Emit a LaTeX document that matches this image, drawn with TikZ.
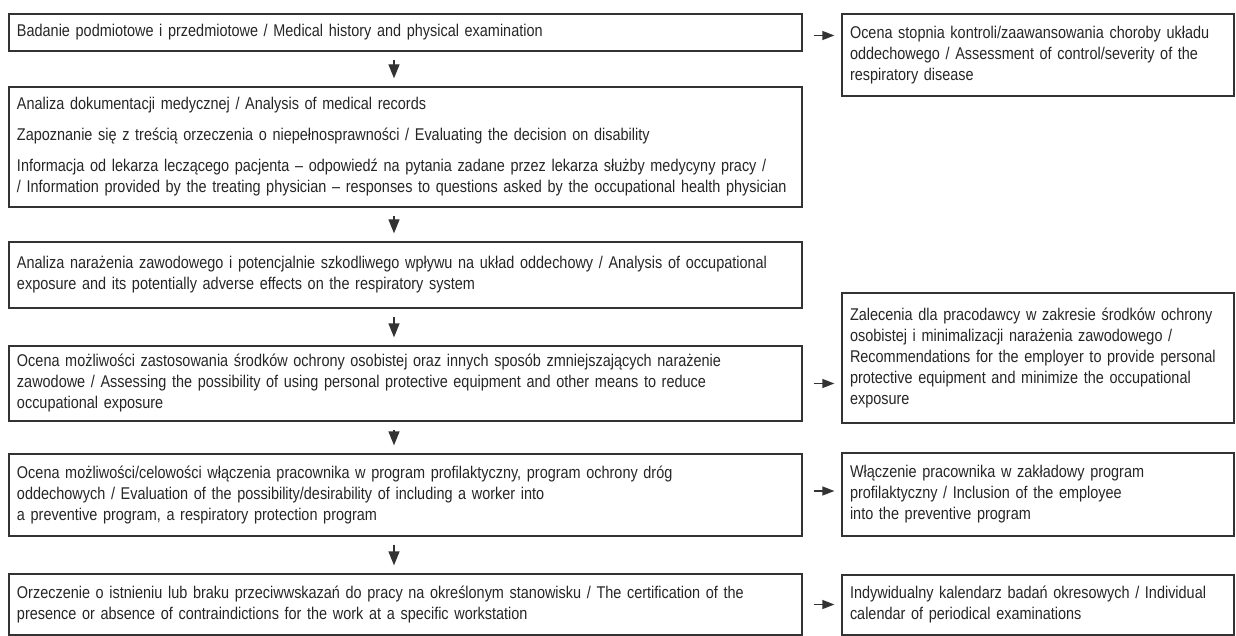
\documentclass[tikz,border=0pt]{standalone}
\usepackage{fontspec}
\setmainfont{Liberation Sans}[FakeStretch=0.85]
\usepackage{tikz}
\usetikzlibrary{arrows.meta,positioning}
\definecolor{ink}{HTML}{262626}
\definecolor{frame}{HTML}{333333}

\begin{document}
\begin{tikzpicture}[x=0.5pt, y=0.5pt,
  box/.style={draw=frame, line width=0.65pt, align=left, text=ink,
              font=\fontsize{8.5pt}{10.5pt}\selectfont, inner xsep=4pt, inner ysep=0pt},
  wide box/.style={box, minimum width=396.5pt, text width=388.5pt},
  side box/.style={box, minimum width=196pt, text width=188pt},
  flow arrow/.style={-{Triangle[length=7pt,width=5.5pt]}, frame, line width=0.65pt,
                     shorten <=4pt, shorten >=4pt},
  side arrow/.style={-{Triangle[length=6pt,width=4.5pt]}, frame, line width=0.65pt,
                     shorten <=5.5pt, shorten >=3.5pt}
]
  \useasboundingbox (0,0) rectangle (1236,-636);

  \node[wide box, minimum height=18.5pt] (history) at (405.5,-32.5)
    {Badanie podmiotowe i przedmiotowe / Medical history and physical examination};
  \node[wide box, minimum height=60pt] (records) at (405.5,-147)
    {Analiza dokumentacji medycznej / Analysis of medical records\\[5pt]
     Zapoznanie się z treścią orzeczenia o niepełnosprawności / Evaluating the decision on disability\\[5pt]
     Informacja od lekarza leczącego pacjenta – odpowiedź na pytania zadane przez lekarza służby medycyny pracy /\\
     / Information provided by the treating physician – responses to questions asked by the occupational health physician};
  \node[wide box, minimum height=33pt] (exposure) at (405.5,-275)
    {Analiza narażenia zawodowego i potencjalnie szkodliwego wpływu na układ oddechowy / Analysis of occupational\\
     exposure and its potentially adverse effects on the respiratory system};
  \node[wide box, minimum height=37.5pt] (protection) at (405.5,-383.5)
    {Ocena możliwości zastosowania środków ochrony osobistej oraz innych sposób zmniejszających narażenie\\
     zawodowe / Assessing the possibility of using personal protective equipment and other means to reduce\\
     occupational exposure};
  \node[wide box, minimum height=41pt] (program) at (405.5,-495)
    {Ocena możliwości/celowości włączenia pracownika w program profilaktyczny, program ochrony dróg\\
     oddechowych / Evaluation of the possibility/desirability of including a worker into\\
     a preventive program, a respiratory protection program};
  \node[wide box, minimum height=30.5pt] (verdict) at (405.5,-604.5)
    {Orzeczenie o istnieniu lub braku przeciwwskazań do pracy na określonym stanowisku / The certification of the\\
     presence or absence of contraindictions for the work at a specific workstation};

  \node[side box, minimum height=41pt] (severity) at (1038,-55)
    {Ocena stopnia kontroli/zaawansowania choroby układu\\
     oddechowego / Assessment of control/severity of the\\
     respiratory disease};
  \node[side box, minimum height=65pt] (employer) at (1038,-358)
    {Zalecenia dla pracodawcy w zakresie środków ochrony\\
     osobistej i minimalizacji narażenia zawodowego /\\
     Recommendations for the employer to provide personal\\
     protective equipment and minimize the occupational\\
     exposure};
  \node[side box, minimum height=41.5pt] (inclusion) at (1038,-494.5)
    {Włączenie pracownika w zakładowy program\\
     profilaktyczny / Inclusion of the employee\\
     into the preventive program};
  \node[side box, minimum height=30pt] (calendar) at (1038,-605)
    {Indywidualny kalendarz badań okresowych / Individual\\
     calendar of periodical examinations};

  \draw[flow arrow] ([xshift=-5.75pt]history.south) -- ([xshift=-5.75pt]records.north);
  \draw[flow arrow] ([xshift=-5.75pt]records.south) -- ([xshift=-5.75pt]exposure.north);
  \draw[flow arrow] ([xshift=-5.75pt]exposure.south) -- ([xshift=-5.75pt]protection.north);
  \draw[flow arrow] ([xshift=-5.75pt]protection.south) -- ([xshift=-5.75pt]program.north);
  \draw[flow arrow] ([xshift=-5.75pt]program.south) -- ([xshift=-5.75pt]verdict.north);

  \draw[side arrow] ([yshift=-1.5pt]history.east) -- ([yshift=-1.5pt]history.east -| severity.west);
  \draw[side arrow] (protection.east) -- (protection.east -| employer.west);
  \draw[side arrow] ([yshift=2pt]program.east) -- ([yshift=2pt]program.east -| inclusion.west);
  \draw[side arrow] (verdict.east) -- (verdict.east -| calendar.west);
\end{tikzpicture}
\end{document}
